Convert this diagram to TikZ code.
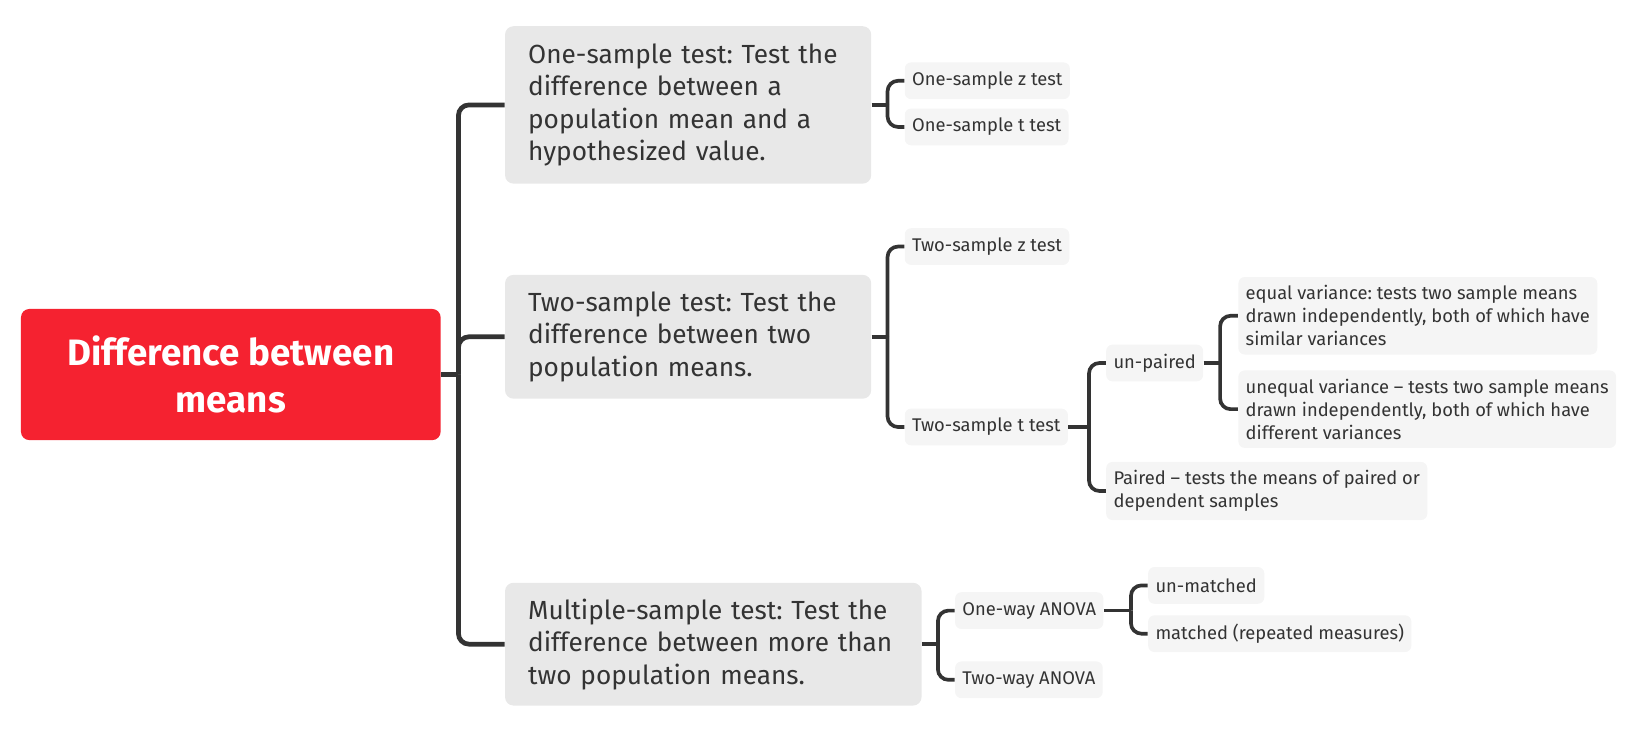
\documentclass[tikz,border=0pt]{standalone}
\usepackage{fontspec}
\setmainfont{Fira Sans}
\usetikzlibrary{positioning}
\definecolor{diffred}{RGB}{245,34,48}
\definecolor{linkgray}{RGB}{51,51,51}
\frenchspacing

\begin{document}
\begin{tikzpicture}[x=0.5pt,y=-0.5pt,
	rootnode/.style={rectangle, rounded corners=4pt, fill=diffred, text=white, font=\fontsize{17.5}{22.5}\selectfont\bfseries, align=center, minimum width=200pt, minimum height=62.5pt, inner sep=0pt},
	mainnode/.style={rectangle, rounded corners=4pt, fill=black!9, text=linkgray, font=\fontsize{12.5}{15.5}\selectfont, align=left, anchor=west, inner xsep=11pt, inner ysep=0pt},
	leafnode/.style={rectangle, rounded corners=3pt, fill=black!4, text=linkgray, font=\fontsize{8.75}{11}\selectfont, align=left, anchor=west, inner xsep=3.5pt, inner ysep=4pt, minimum height=17.5pt},
	mainlink/.style={draw=linkgray, line width=2.25pt, rounded corners=5pt},
	leaflink/.style={draw=linkgray, line width=1.75pt, rounded corners=5pt}]
	\useasboundingbox (0,0) rectangle (1568,697);
	% root and the three kinds of test
	\node[rootnode] (root) at (220,357) {Difference between\\means};
	\node[mainnode, minimum width=174.5pt, minimum height=75pt, text width=152.5pt] (onesample) at (481,100) {One-sample test: Test the\\difference between a\\population mean and a\\hypothesized value.};
	\node[mainnode, minimum width=174.5pt, minimum height=59pt, text width=152.5pt] (twosample) at (481,321) {Two-sample test: Test the\\difference between two\\population means.};
	\node[mainnode, minimum width=198.5pt, minimum height=58.5pt, text width=176.5pt] (multisample) at (481,614) {Multiple-sample test: Test the\\difference between more than\\two population means.};
	% leaves
	\node[leafnode] (ztest1) at (862,77) {One-sample z test};
	\node[leafnode] (ttest1) at (862,121) {One-sample t test};
	\node[leafnode] (ztest2) at (862,235) {Two-sample z test};
	\node[leafnode] (ttest2) at (862,407) {Two-sample t test};
	\node[leafnode] (unpaired) at (1054,346) {un-paired};
	\node[leafnode] (eqvar) at (1180,301) {equal variance: tests two sample means\\drawn independently, both of which have\\similar variances};
	\node[leafnode] (uneqvar) at (1180,390) {unequal variance – tests two sample means\\drawn independently, both of which have\\different variances};
	\node[leafnode] (paired) at (1054,468) {Paired – tests the means of paired or\\dependent samples};
	\node[leafnode] (anova1) at (910,582) {One-way ANOVA};
	\node[leafnode] (anova2) at (910,648) {Two-way ANOVA};
	\node[leafnode] (unmatched) at (1094,558) {un-matched};
	\node[leafnode] (matched) at (1094,604) {matched (repeated measures)};
	% connectors
	\coordinate (rootfork) at (437,357);
	\draw[mainlink] (root.east) -- (rootfork);
	\draw[mainlink] (rootfork) |- (onesample.west);
	\draw[mainlink] (rootfork) |- (twosample.west);
	\draw[mainlink] (rootfork) |- (multisample.west);
	\coordinate (onefork) at (846,100);
	\draw[leaflink] (onesample.east) -- (onefork);
	\draw[leaflink] (onefork) |- (ztest1.west);
	\draw[leaflink] (onefork) |- (ttest1.west);
	\coordinate (twofork) at (846,321);
	\draw[leaflink] (twosample.east) -- (twofork);
	\draw[leaflink] (twofork) |- (ztest2.west);
	\draw[leaflink] (twofork) |- (ttest2.west);
	\coordinate (tfork) at (1038,407);
	\draw[leaflink] (ttest2.east) -- (tfork);
	\draw[leaflink] (tfork) |- (unpaired.west);
	\draw[leaflink] (tfork) |- (paired.west);
	\coordinate (unpairedfork) at (1163,346);
	\draw[leaflink] (unpaired.east) -- (unpairedfork);
	\draw[leaflink] (unpairedfork) |- (eqvar.west);
	\draw[leaflink] (unpairedfork) |- (uneqvar.west);
	\coordinate (multifork) at (894,614);
	\draw[leaflink] (multisample.east) -- (multifork);
	\draw[leaflink] (multifork) |- (anova1.west);
	\draw[leaflink] (multifork) |- (anova2.west);
	\coordinate (anovafork) at (1078,582);
	\draw[leaflink] (anova1.east) -- (anovafork);
	\draw[leaflink] (anovafork) |- (unmatched.west);
	\draw[leaflink] (anovafork) |- (matched.west);
\end{tikzpicture}
\end{document}
